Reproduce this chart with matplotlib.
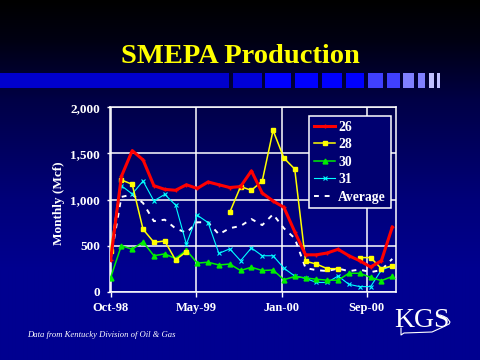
import numpy as np
import matplotlib
matplotlib.use("Agg")
import matplotlib.pyplot as plt
from matplotlib.patches import Rectangle

nan = np.nan
# ---- data (Monthly production, Mcf) ----
s26 = [340, 1250, 1530, 1430, 1150, 1110, 1100, 1160, 1120, 1190, 1160, 1130, 1140,
       1310, 1070, 984, 915, 650, 400, 400, 420, 460, 390, 336, 268, 336, 700]
s28 = [445, 1212, 1165, 677, 536, 550, 344, 434, nan, nan, nan, 860, 1140,
       1100, 1200, 1750, 1450, 1330, 330, 300, 250, 250, nan, 370, 370, 250, 280]
s30 = [150, 500, 460, 540, 390, 410, 360, 450, 310, 320, 290, 300, 230,
       265, 230, 235, 130, 165, 150, 135, 125, 125, 200, 200, 155, 120, 165]
s31 = [450, 1150, 1060, 1200, 985, 1055, 940, 515, 830, 750, 415, 465, 336,
       475, 390, 390, 255, 170, 145, 100, 100, 170, 80, 55, 55, 235, 280]
avg = [346, 1028, 1054, 962, 765, 781, 686, 640, 753, 753, 622, 689, 712,
       788, 722, 840, 688, 579, 256, 234, 224, 251, 223, 240, 212, 235, 356]
xtick_labels = ["Oct-98", "May-99", "Jan-00", "Sep-00"]
xtick_pos = [0, 7.88, 15.79, 23.64]
ytick_vals = [0, 500, 1000, 1500, 2000]
ytick_labels = ["0", "500", "1,000", "1,500", "2,000"]

W, H = 480, 360
fig = plt.figure(figsize=(4.8, 3.6), dpi=100)

# ---- background / decorations axes ----
bg = fig.add_axes([0, 0, 1, 1])
bg.set_xlim(0, W)
bg.set_ylim(H, 0)
bg.axis("off")
yy = np.arange(H)
blue = np.interp(yy, [0, 40, 100, 200, 270, 360], [0, 18, 70, 122, 144, 144])
grad = np.zeros((H, 2, 3))
grad[:, :, 2] = (blue / 255.0)[:, None]
bg.imshow(grad, extent=[0, W, H, 0], aspect="auto", zorder=0, interpolation="bilinear")

segs = [(0, 229, "#0000CC"), (233, 262, "#0000D8"), (265, 291, "#0000FF"),
        (295, 318, "#0000FF"), (322, 342, "#0000FF"), (346, 364, "#0000FF"),
        (368, 383, "#4040FF"), (387, 400, "#4040FF"), (403, 414, "#8080FF"),
        (418, 425, "#8080FF"), (429, 434, "#C0C0FF"), (437, 440, "#C0C0FF")]
for x0, x1, c in segs:
    bg.add_patch(Rectangle((x0, 73), x1 - x0, 15, color=c, lw=0, zorder=2))

# KGS logo
bg.text(394, 327, "KGS", color="white", fontsize=20, family="Liberation Serif",
        ha="left", va="baseline", zorder=3)
kx = [401, 401, 404, 432, 443, 449, 450, 447, 443, 440, 437]
ky = [328, 335, 333, 332, 327, 324, 322, 318, 316, 315, 316]
bg.plot(kx, ky, color="white", lw=0.8, zorder=3)

fig.text(0.5, 1 - 63 / H, "SMEPA Production", color="#FFFF00", fontsize=20.5,
         fontweight="bold", family="Liberation Serif", ha="center", va="baseline")
fig.text(27 / W, 1 - 337 / H, "Data from Kentucky Division of Oil & Gas", color="white",
         fontsize=6.2, style="italic", family="Liberation Serif", ha="left", va="baseline")

# ---- main plot ----
left, right, top, bottom = 110, 395.5, 107.3, 291.7
ax = fig.add_axes([left / W, 1 - bottom / H, (right - left) / W, (bottom - top) / H])
ax.set_facecolor("none")
x = np.arange(len(s26))

ax.plot(x, avg, color="white", lw=1.4, ls=(0, (2.5, 3)), label="Average", zorder=3)
ax.plot(x, s31, color="#00FFFF", lw=0.8, marker="x", ms=3, mew=0.8, label="31", zorder=4)
ax.plot(x, s30, color="#00EE00", lw=1.1, marker="^", ms=3.5, label="30", zorder=5)
ax.plot(x, s28, color="#FFFF00", lw=1.1, marker="s", ms=3.5, label="28", zorder=6)
ax.plot(x, s26, color="#FF0000", lw=2.2, marker="+", ms=3, label="26", zorder=7)

ax.set_xlim(-0.05, 26.3)
ax.set_ylim(0, 2000)
ax.set_xticks(xtick_pos)
ax.set_xticklabels(xtick_labels)
ax.set_yticks(ytick_vals)
ax.set_yticklabels(ytick_labels)
ax.grid(True, color="white", lw=1.1)
ax.set_axisbelow(True)
for sp in ax.spines.values():
    sp.set_color("white")
    sp.set_linewidth(1.1)
ax.tick_params(axis="x", colors="white", length=3.6, width=1, pad=3.5, direction="out")
ax.tick_params(axis="y", colors="white", length=2.2, width=1, pad=5, direction="out")
for lab in ax.get_xticklabels():
    lab.set_fontfamily("Liberation Serif")
    lab.set_fontweight("bold")
    lab.set_fontsize(9)
for lab in ax.get_yticklabels():
    lab.set_fontfamily("Liberation Serif")
    lab.set_fontweight("bold")
    lab.set_fontsize(9.5)
ax.set_ylabel("Monthly (Mcf)", color="white", fontsize=9.5, fontweight="bold",
              family="Liberation Serif", va="center")
ax.yaxis.set_label_coords(-0.179, 0.48)

handles, labels = ax.get_legend_handles_labels()
order = ["26", "28", "30", "31", "Average"]
hmap = dict(zip(labels, handles))
leg = ax.legend([hmap[k] for k in order], order, loc="upper right",
                bbox_to_anchor=(0.983, 0.953), borderaxespad=0, frameon=True,
                fancybox=False, facecolor="#000070", edgecolor="white", framealpha=1,
                prop={"family": "Liberation Serif", "weight": "bold", "size": 9.8},
                labelspacing=0.33, handlelength=1.6, handletextpad=0.2,
                borderpad=0.35, numpoints=1)
leg.get_frame().set_linewidth(1.1)
leg.set_zorder(10)
for t in leg.get_texts():
    t.set_color("white")

fig.savefig("out.png", dpi=100)
